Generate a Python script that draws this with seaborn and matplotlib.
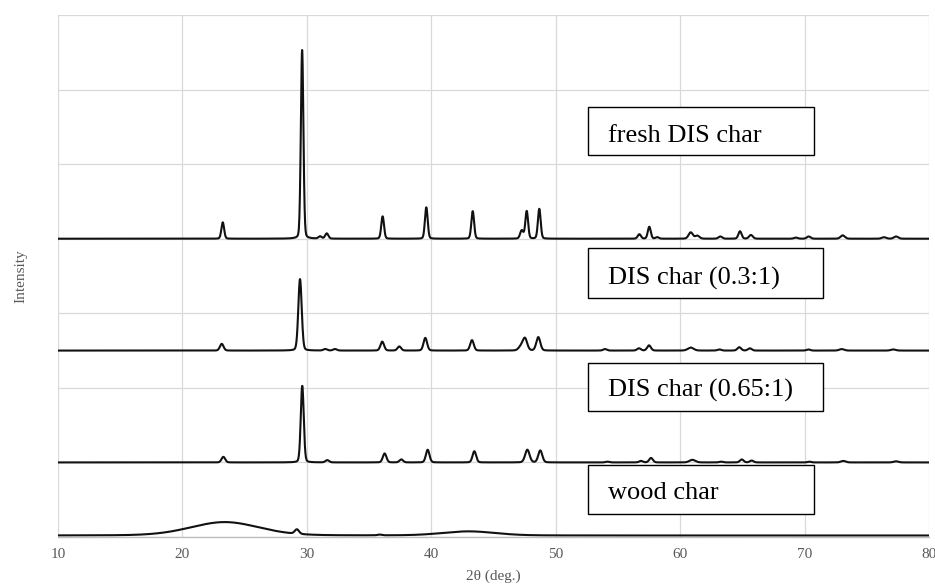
import numpy as np
import pandas as pd
import matplotlib
matplotlib.use("Agg")
import matplotlib.pyplot as plt
from matplotlib.patches import Rectangle
import seaborn as sns

# ---------------- data ----------------
samples = ["fresh DIS char", "DIS char (0.3:1)", "DIS char (0.65:1)", "wood char"]
offsets = [4.0, 2.5, 1.0, 0.02]

# peak positions (deg 2theta), heights (intensity units), FWHM (deg)
fresh_pos = [23.24, 29.62, 31.06, 31.6, 36.09, 39.6, 43.33, 47.27, 47.67, 48.68,
             56.72, 57.52, 58.16, 60.85, 61.38, 63.23, 64.81, 65.69, 69.3, 70.33,
             73.06, 76.38, 77.35]
fresh_h = [0.22, 2.53, 0.03, 0.07, 0.30, 0.42, 0.37, 0.11, 0.37, 0.40,
           0.06, 0.16, 0.02, 0.085, 0.04, 0.03, 0.10, 0.05, 0.015, 0.03,
           0.045, 0.02, 0.03]
fresh_w = [0.26, 0.24, 0.3, 0.3, 0.26, 0.26, 0.26, 0.3, 0.26, 0.26,
           0.3, 0.28, 0.3, 0.4, 0.4, 0.35, 0.3, 0.35, 0.35, 0.35,
           0.4, 0.4, 0.4]

r03_pos = [23.16, 29.45, 31.48, 32.26, 36.06, 37.43, 39.52, 43.27, 47.2, 47.53, 48.6,
           53.96, 56.69, 57.5, 60.85, 63.15, 64.75, 65.6, 70.3, 72.98, 77.13]
r03_h = [0.09, 0.96, 0.02, 0.02, 0.12, 0.055, 0.17, 0.14, 0.05, 0.16, 0.18,
         0.02, 0.03, 0.07, 0.04, 0.015, 0.045, 0.03, 0.015, 0.02, 0.015]
r03_w = [0.34, 0.32, 0.35, 0.35, 0.34, 0.34, 0.34, 0.34, 0.45, 0.42, 0.38,
         0.35, 0.35, 0.35, 0.55, 0.35, 0.35, 0.35, 0.35, 0.45, 0.45]

r065_pos = [23.29, 29.63, 31.64, 36.25, 37.59, 39.71, 43.46, 47.72, 48.76,
            54.15, 56.85, 57.66, 60.98, 63.29, 64.95, 65.75, 70.38, 73.11, 77.35]
r065_h = [0.075, 1.03, 0.03, 0.12, 0.04, 0.17, 0.15, 0.17, 0.16,
          0.01, 0.02, 0.06, 0.035, 0.01, 0.04, 0.025, 0.01, 0.02, 0.015]
r065_w = [0.34, 0.28, 0.35, 0.34, 0.34, 0.34, 0.34, 0.42, 0.38,
          0.35, 0.35, 0.35, 0.55, 0.35, 0.35, 0.35, 0.35, 0.45, 0.45]

wood_pos = [23.4, 29.2, 35.85, 43.0]
wood_h = [0.18, 0.06, 0.01, 0.055]
wood_w = [6.5, 0.4, 0.4, 5.0]

x_ticks = [10, 20, 30, 40, 50, 60, 70, 80]
x_label = "2θ (deg.)"
y_label = "Intensity"

peak_sets = [(fresh_pos, fresh_h, fresh_w), (r03_pos, r03_h, r03_w),
             (r065_pos, r065_h, r065_w), (wood_pos, wood_h, wood_w)]

# ---------------- build curves from peak lists ----------------
angle = np.linspace(10, 80, 3501)


def pattern(pos, h, w, eta=0.15):
    y = np.zeros_like(angle)
    for p, a, f in zip(pos, h, w):
        g = np.exp(-4 * np.log(2) * ((angle - p) / f) ** 2)
        l = 1.0 / (1.0 + 4 * ((angle - p) / f) ** 2)
        y += a * ((1 - eta) * g + eta * l)
    return y

frames = []
for name, off, (p, h, w) in zip(samples, offsets, peak_sets):
    frames.append(pd.DataFrame({"angle": angle,
                                "intensity": pattern(p, h, w) + off,
                                "sample": name}))
df = pd.concat(frames, ignore_index=True)

# ---------------- plot ----------------
sns.set_theme(style="white")
plt.rcParams["font.family"] = ["Liberation Serif", "DejaVu Serif"]

fig = plt.figure(figsize=(9.35, 5.88), dpi=100)
ax = fig.add_axes([58 / 935, 51 / 588, 871 / 935, 522 / 588])

sns.lineplot(data=df, x="angle", y="intensity", hue="sample",
             palette=["#111111"] * 4, estimator=None, sort=False,
             legend=False, linewidth=1.5, ax=ax)

ax.set_xlim(10, 80)
ax.set_ylim(0, 7)
ax.set_xticks(x_ticks)
ax.set_yticks(range(0, 8))
ax.set_yticklabels([])
ax.grid(True, color="#d9d9d9", linewidth=0.9)
ax.set_axisbelow(True)
for s in ["top", "right", "left"]:
    ax.spines[s].set_visible(False)
ax.spines["bottom"].set_color("#bfbfbf")
ax.spines["bottom"].set_linewidth(1.0)
ax.tick_params(axis="both", length=0, colors="#595959", labelsize=11, pad=8)
ax.set_xlabel(x_label, fontsize=11, color="#595959", labelpad=6)
ax.set_ylabel(y_label, fontsize=11, color="#595959", labelpad=14)

# label boxes
boxes = [(52.6, 5.12, 18.18, 0.65, 5.30),
         (52.6, 3.21, 18.9, 0.66, 3.39),
         (52.6, 1.69, 18.9, 0.65, 1.88),
         (52.6, 0.31, 18.18, 0.65, 0.505)]
for name, (bx, by, bw, bh, ty) in zip(samples, boxes):
    ax.add_patch(Rectangle((bx, by), bw, bh, facecolor="white",
                           edgecolor="black", linewidth=1.0, zorder=5))
    ax.text(54.2, ty, name, fontsize=19, color="black", ha="left",
            va="baseline", zorder=6)

fig.savefig("out.png", dpi=100)
